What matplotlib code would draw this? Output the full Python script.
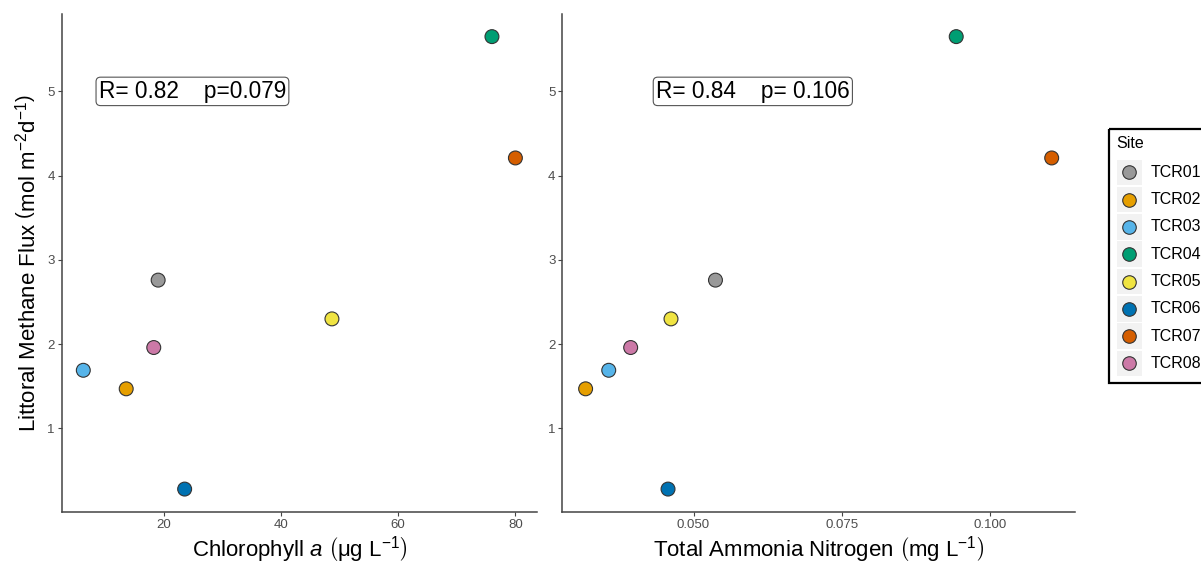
import matplotlib
matplotlib.use("Agg")
import matplotlib.pyplot as plt
from matplotlib.patches import Rectangle
from matplotlib.ticker import FormatStrFormatter

plt.rcParams['font.family'] = ['Liberation Sans', 'DejaVu Sans']
plt.rcParams['mathtext.fontset'] = 'custom'
plt.rcParams['mathtext.rm'] = 'Liberation Sans'
plt.rcParams['mathtext.it'] = 'Liberation Sans:italic'

# data
sites = ['TCR01', 'TCR02', 'TCR03', 'TCR04', 'TCR05', 'TCR06', 'TCR07', 'TCR08']
colours = ['#999999', '#E69F00', '#56B4E9', '#009E73',
           '#F0E442', '#0072B2', '#D55E00', '#CC79A7']
methane_flux = [2.76, 1.47, 1.69, 5.65, 2.30, 0.28, 4.21, 1.96]
chlorophyll = [19.05, 13.6, 6.28, 76.0, 48.7, 23.57, 80.0, 18.3]
ammonia = [0.0537, 0.0318, 0.0357, 0.0943, 0.0462, 0.0457, 0.1104, 0.0394]

stats_chl = "R= 0.82    p=0.079"
stats_tan = "R= 0.84    p= 0.106"

W, H = 1201, 563
fig = plt.figure(figsize=(W / 100, H / 100), dpi=100)


def px_box(x0, x1, y0, y1):
    return [x0 / W, 1 - y1 / H, (x1 - x0) / W, (y1 - y0) / H]


def expand(vals):
    lo, hi = min(vals), max(vals)
    pad = 0.05 * (hi - lo)
    return lo - pad, hi + pad


def style(ax):
    for s in ['top', 'right']:
        ax.spines[s].set_visible(False)
    for s in ['left', 'bottom']:
        ax.spines[s].set_color('#444444')
        ax.spines[s].set_linewidth(1.1)
    ax.tick_params(length=3, width=0.8, color='#444444',
                   labelsize=9.5, labelcolor='#4D4D4D', pad=2)
    ax.set_yticks([1, 2, 3, 4, 5])
    ax.set_ylim(*expand(methane_flux))


ax1 = fig.add_axes(px_box(61.7, 537, 14, 511.7))
ax2 = fig.add_axes(px_box(562.3, 1075, 14, 511.7))

for ax, xv in [(ax1, chlorophyll), (ax2, ammonia)]:
    style(ax)
    ax.scatter(xv, methane_flux, s=100, c=colours, edgecolors='#333333',
               linewidths=0.8, zorder=3)
    ax.set_xlim(*expand(xv))

ax1.set_xticks([20, 40, 60, 80])
ax2.set_xticks([0.050, 0.075, 0.100])
ax2.xaxis.set_major_formatter(FormatStrFormatter('%.3f'))

box_style = dict(boxstyle='round,pad=0.12,rounding_size=0.2',
                 fc='white', ec='#555555', lw=0.8)
ax1.text(24.9, 5.0, stats_chl, fontsize=16.3, ha='center', va='center',
         bbox=box_style)
ax2.text(0.0600, 5.0, stats_tan, fontsize=16.3, ha='center', va='center',
         bbox=box_style)

ax1.set_xlabel(r'Chlorophyll $\mathit{a}$ $\left(\mathrm{\mu g\ L^{-1}}\right)$',
               fontsize=16)
ax2.set_xlabel(r'Total Ammonia Nitrogen $\left(\mathrm{mg\ L^{-1}}\right)$',
               fontsize=16)
ax1.set_ylabel(r'Littoral Methane Flux $\left(\mathrm{mol\ m^{-2}d^{-1}}\right)$',
               fontsize=16)
for ax in (ax1, ax2):
    ax.xaxis.label.set_va('center')
    ax.xaxis.set_label_coords(0.5, -0.077)
ax1.yaxis.label.set_va('center')
ax1.yaxis.set_label_coords(-0.071, 0.5)

# legend drawn in pixel space on an overlay
lax = fig.add_axes([0, 0, 1, 1])
lax.set_xlim(0, W)
lax.set_ylim(H, 0)
lax.axis('off')
lax.add_patch(Rectangle((1108.5, 129), 110, 254, fill=False, ec='black',
                        lw=1.6, clip_on=False))
lax.text(1116, 144, 'Site', fontsize=11.5, ha='left', va='center')
for i, (site, col) in enumerate(zip(sites, colours)):
    yc = 172.3 + i * 27.3
    lax.add_patch(Rectangle((1116.5, yc - 12.8), 25.6, 25.6,
                            fc='#F2F2F2', ec='none'))
    lax.scatter([1129.3], [yc], s=95, c=col, edgecolors='#333333',
                linewidths=0.8, zorder=3)
    lax.text(1151, yc, site, fontsize=11.5, ha='left', va='center')

fig.savefig('out.png', dpi=100)
